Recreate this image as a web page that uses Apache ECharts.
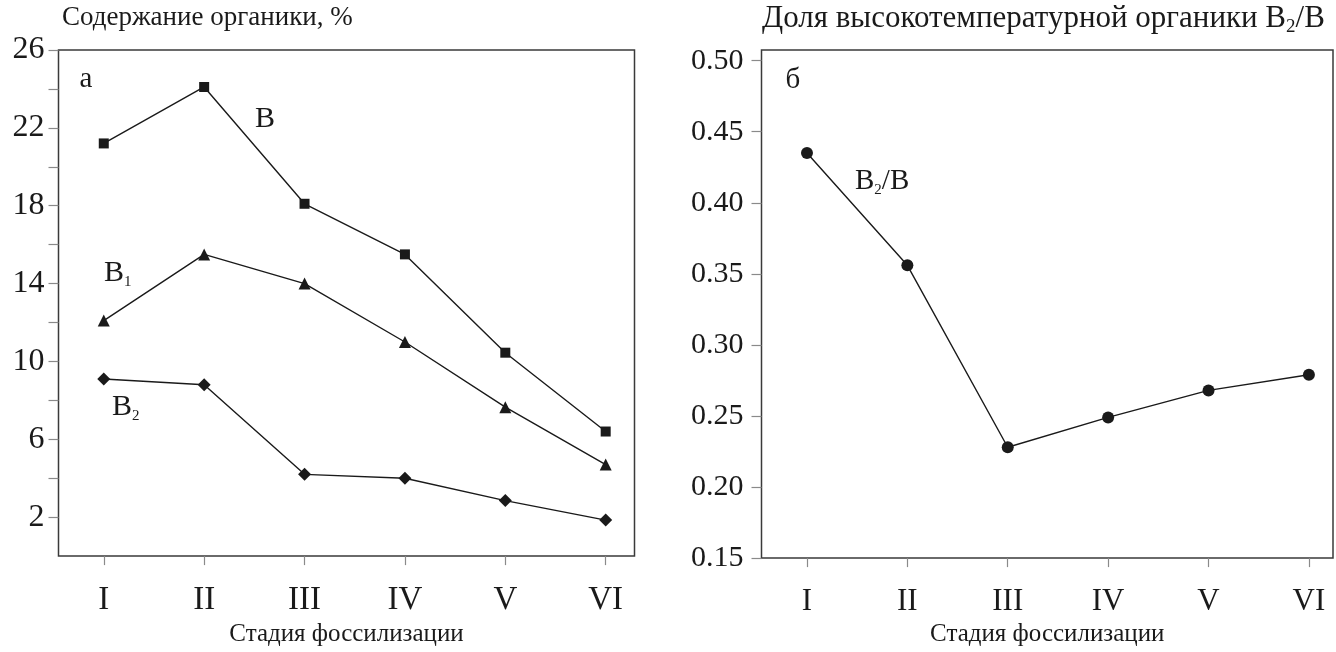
<!DOCTYPE html>
<html>
<head>
<meta charset="utf-8">
<script src="https://cdn.jsdelivr.net/npm/echarts@6/dist/echarts.min.js"></script>
<style>
html,body{margin:0;padding:0;background:#fff;}
#chart{width:1336px;height:652px;}
</style>
</head>
<body>
<div id="chart"></div>
<script>
// ---- data ----
const stages = ['I', 'II', 'III', 'IV', 'V', 'VI'];
const stagePos = [1, 2, 3, 4, 5, 6];
const valuesB = [21.2, 24.1, 18.1, 15.5, 10.45, 6.4];
const valuesB1 = [12.1, 15.5, 14.0, 11.0, 7.65, 4.7];
const valuesB2 = [9.1, 8.8, 4.2, 4.0, 2.85, 1.85];
const ratioB2B = [0.435, 0.356, 0.228, 0.249, 0.268, 0.279];
const leftTicks = [2, 4, 6, 8, 10, 12, 14, 16, 18, 20, 22, 24, 26];
const leftLabels = [2, 6, 10, 14, 18, 22, 26];
const rightTicks = [0.15, 0.20, 0.25, 0.30, 0.35, 0.40, 0.45, 0.50];

const FONT = 'Liberation Serif';
const ink = '#1a1a1a';
const frame = '#3a3a3a';
const tickCol = '#8a8a8a';

function pts(arr) { return stagePos.map((x, i) => [x, arr[i]]); }

const chart = echarts.init(document.getElementById('chart'), null, {renderer: 'canvas'});

function xAxisCfg(gi, min, max, fs) {
  return {
    type: 'value', gridIndex: gi, min: min, max: max,
    axisLine: {show: false},
    axisTick: {show: true, inside: false, length: 9, customValues: stagePos, lineStyle: {color: tickCol, width: 1.2}},
    axisLabel: {customValues: stagePos, formatter: v => stages[Math.round(v) - 1] || '', margin: 28,
      fontFamily: FONT, fontSize: fs, color: ink},
    splitLine: {show: false},
    name: 'Стадия фоссилизации', nameLocation: 'middle', nameGap: 61,
    nameTextStyle: {fontFamily: FONT, fontSize: 25, color: ink}
  };
}

const lineStyle = {color: ink, width: 1.4};
const itemStyle = {color: ink};

function richLabel(text, x, y, size, subSize, subPad) {
  return {
    type: 'text', x: x, y: y,
    style: {
      text: text, fill: ink, align: 'left', verticalAlign: 'middle',
      rich: {
        m: {fontFamily: FONT, fontSize: size, color: ink},
        s: {fontFamily: FONT, fontSize: subSize, color: ink, padding: [subPad, 0, 0, 0]}
      }
    }
  };
}

chart.setOption({
  animation: false,
  backgroundColor: '#fff',
  grid: [
    {left: 58.5, top: 50, right: 701.5, bottom: 92.5, show: true, borderColor: frame, borderWidth: 1.5, backgroundColor: 'transparent'},
    {left: 761.5, top: 50, right: 3, bottom: 92.5, show: true, borderColor: frame, borderWidth: 1.5, backgroundColor: 'transparent'}
  ],
  xAxis: [xAxisCfg(0, 0.549, 6.287, 33), xAxisCfg(1, 0.547, 6.24, 31)],
  yAxis: [
    {
      type: 'value', gridIndex: 0, min: 0, max: 26,
      axisLine: {show: false},
      axisTick: {show: true, inside: false, length: 10, customValues: leftTicks, lineStyle: {color: tickCol, width: 1.2}},
      axisLabel: {customValues: leftLabels, margin: 14, fontFamily: FONT, fontSize: 32, color: ink},
      splitLine: {show: false}
    },
    {
      type: 'value', gridIndex: 1, min: 0.15, max: 0.5075,
      axisLine: {show: false},
      axisTick: {show: true, inside: false, length: 10, customValues: rightTicks, lineStyle: {color: tickCol, width: 1.2}},
      axisLabel: {customValues: rightTicks, formatter: v => v.toFixed(2), margin: 18, fontFamily: FONT, fontSize: 30, color: ink},
      splitLine: {show: false}
    }
  ],
  series: [
    {type: 'line', xAxisIndex: 0, yAxisIndex: 0, data: pts(valuesB), symbol: 'rect', symbolSize: 10,
      lineStyle: lineStyle, itemStyle: itemStyle},
    {type: 'line', xAxisIndex: 0, yAxisIndex: 0, data: pts(valuesB1), symbol: 'triangle', symbolSize: 12,
      lineStyle: lineStyle, itemStyle: itemStyle},
    {type: 'line', xAxisIndex: 0, yAxisIndex: 0, data: pts(valuesB2), symbol: 'diamond', symbolSize: 13,
      lineStyle: lineStyle, itemStyle: itemStyle},
    {type: 'line', xAxisIndex: 1, yAxisIndex: 1, data: pts(ratioB2B), symbol: 'circle', symbolSize: 12,
      lineStyle: lineStyle, itemStyle: itemStyle}
  ],
  graphic: [
    {type: 'text', x: 62, y: 18, style: {text: 'Содержание органики, %', fill: ink, font: '27px "Liberation Serif"', align: 'left', verticalAlign: 'middle'}},
    richLabel('{m|Доля высокотемпературной органики В}{s|2}{m|/В}', 762, 19, 31, 19, 16),
    {type: 'text', x: 86, y: 79, style: {text: 'а', fill: ink, font: '29px "Liberation Serif"', align: 'center', verticalAlign: 'middle'}},
    {type: 'text', x: 265, y: 119, style: {text: 'В', fill: ink, font: '30px "Liberation Serif"', align: 'center', verticalAlign: 'middle'}},
    richLabel('{m|В}{s|1}', 104, 273, 30, 15, 18),
    richLabel('{m|В}{s|2}', 112, 407, 30, 15, 18),
    {type: 'text', x: 793, y: 80, style: {text: 'б', fill: ink, font: '29px "Liberation Serif"', align: 'center', verticalAlign: 'middle'}},
    richLabel('{m|В}{s|2}{m|/В}', 855, 181, 29, 15, 18)
  ]
});
</script>
</body>
</html>
